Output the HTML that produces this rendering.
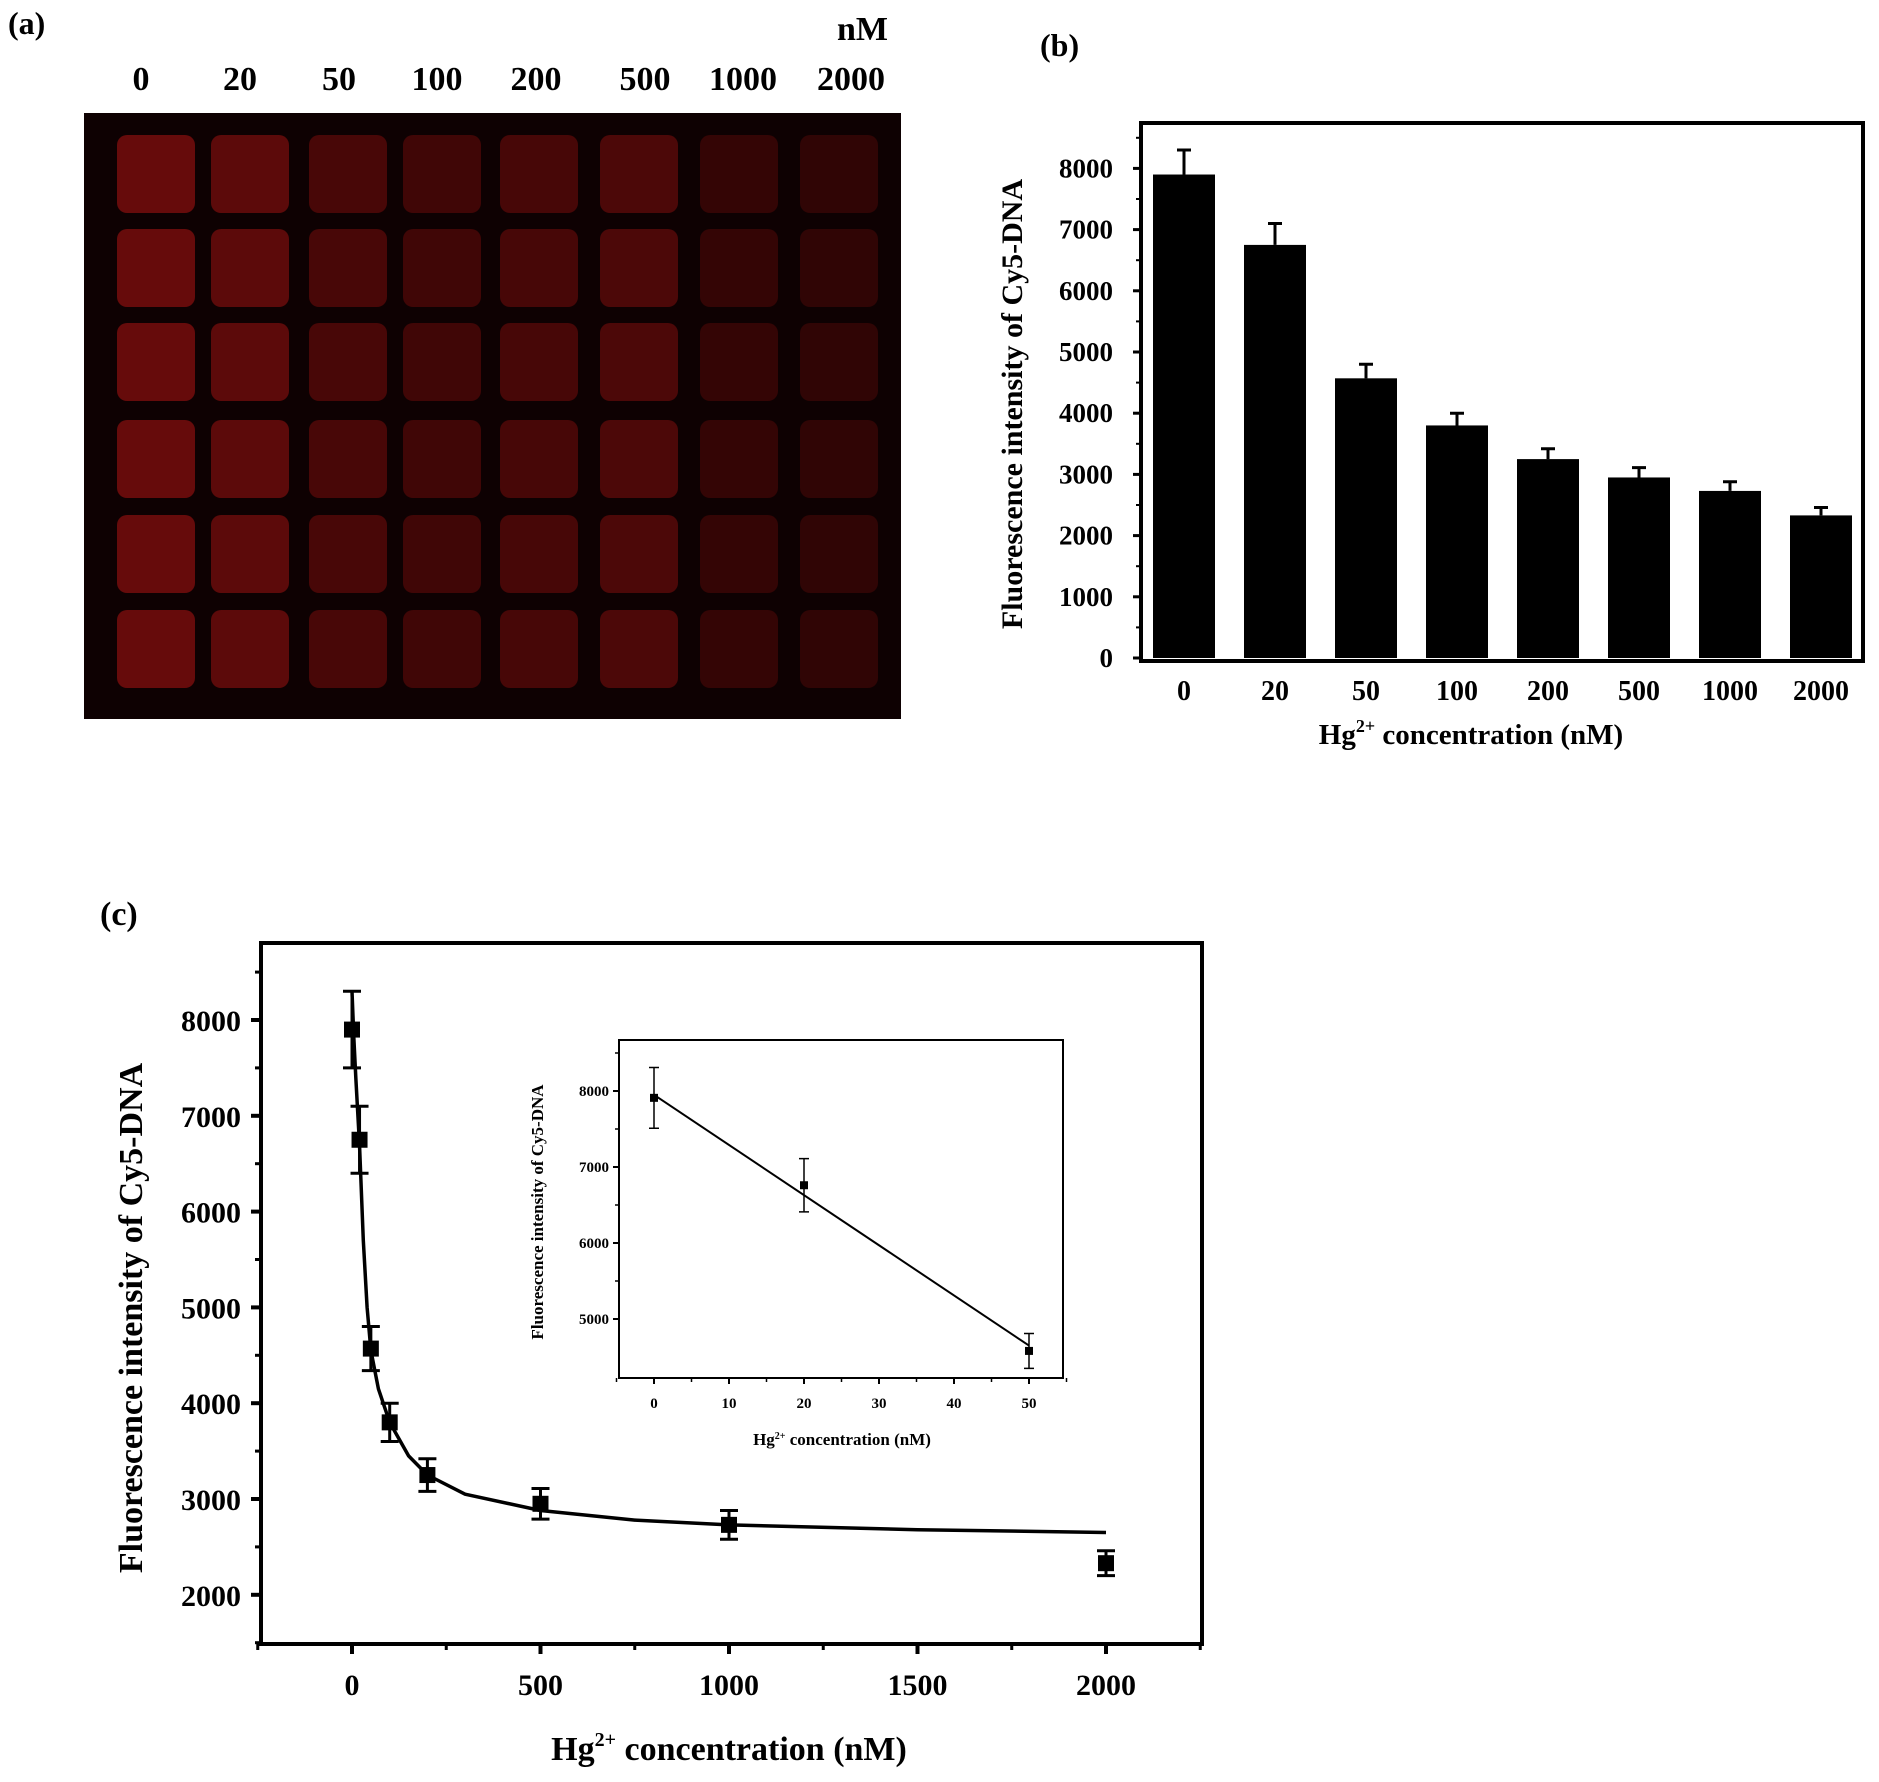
<!DOCTYPE html>
<html><head><meta charset="utf-8"><style>
html,body{margin:0;padding:0;background:#fff}
svg{display:block}
text{font-family:"Liberation Serif",serif;font-weight:bold;fill:#000}
</style></head><body>
<svg id="fig" width="1879" height="1782" viewBox="0 0 1879 1782" xmlns="http://www.w3.org/2000/svg">
<text x="8" y="34" font-size="32">(a)</text>
<text x="1040" y="56" font-size="32">(b)</text>
<text x="100" y="925" font-size="34">(c)</text>
<g id="gel"></g>
<g id="bar"></g>
<g id="curve"></g>
<g id="inset"></g>
</svg>
<script>
const concLabels = ["0","20","50","100","200","500","1000","2000"];
const concValues = [0,20,50,100,200,500,1000,2000];
const intensity = [7900,6750,4570,3800,3250,2950,2730,2330];
const errors = [400,350,230,200,170,160,150,130];
const barYTicks = [0,1000,2000,3000,4000,5000,6000,7000,8000];
const curveYTicks = [2000,3000,4000,5000,6000,7000,8000];
const curveXTicks = [0,500,1000,1500,2000];
const fitX = [0,5,10,20,30,40,50,70,100,150,200,300,500,750,1000,1500,2000];
const fitY = [8300,7800,7400,6700,5700,5000,4550,4150,3800,3450,3250,3050,2880,2780,2730,2680,2650];
const insetX = [0,20,50];
const insetY = [7910,6760,4580];
const insetErr = [400,350,230];
const insetFitX = [0,50];
const insetFitY = [7950,4650];
const insetXTicks = [0,10,20,30,40,50];
const insetYTicks = [5000,6000,7000,8000];
const wellColors = ["#660b0b","#5c0a0a","#480707","#400606","#470707","#4c0808","#340505","#300505"];

const NS="http://www.w3.org/2000/svg";
function mk(parent,tag,attrs,txt){const e=document.createElementNS(NS,tag);for(const k in attrs)e.setAttribute(k,attrs[k]);if(txt!==undefined)e.textContent=txt;parent.appendChild(e);return e;}

// ---- gel ----
const gel=document.getElementById('gel');
let r=mk(gel,'rect',{x:84,y:113,width:817,height:606,fill:'#0e0102'});


const colX=[156,250,348,442,539,639,739,839];
const labX=[141,240,339,437,536,645,743,851];
const rowY=[174,268,362,459,554,649];
concLabels.forEach((l,i)=>{
  const t=mk(gel,'text',{x:labX[i],y:90,'font-size':34,'text-anchor':'middle'},l);
  
  
  rowY.forEach(y=>{
    const w=mk(gel,'rect',{x:colX[i]-39,y:y-39,width:78,height:78,rx:10,fill:wellColors[i]});
    
    
  });
});
let t=mk(gel,'text',{x:888,y:40,'font-size':34,'text-anchor':'end'},'nM');



// ---- bar chart ----
const bar=document.getElementById('bar');
const bL=1141,bR=1863,bT=123,bB=661,bY0=658,bPer=61.2;
const bx=i=>1184+i*91.0;
const by=v=>bY0-v/1000*bPer;
intensity.forEach((v,i)=>{
  const rr=mk(bar,'rect',{x:bx(i)-31,y:by(v),width:62,height:bY0-by(v),fill:'#000'});
  
  
  const e=mk(bar,'path',{d:`M${bx(i)} ${by(v)} V${by(v+errors[i])} M${bx(i)-7} ${by(v+errors[i])} H${bx(i)+7}`,stroke:'#000','stroke-width':3,fill:'none'});
  
  
  const lb=mk(bar,'text',{x:bx(i),y:700,'font-size':28,'text-anchor':'middle'},concLabels[i]);
  
  
});
let ax=mk(bar,'path',{d:`M${bL} ${bT} H${bR} V${bB} H${bL} Z`,stroke:'#000','stroke-width':4,fill:'none'});


barYTicks.forEach(v=>{
  mk(bar,'line',{x1:bL-8,x2:bL,y1:by(v),y2:by(v),stroke:'#000','stroke-width':3});
  mk(bar,'line',{x1:bL-5,x2:bL,y1:by(v+500),y2:by(v+500),stroke:'#000','stroke-width':2});
  const lb=mk(bar,'text',{x:bL-28,y:by(v)+9,'font-size':27,'text-anchor':'end'},String(v));
  
  
});
t=mk(bar,'text',{x:0,y:0,'font-size':30,'text-anchor':'middle',transform:'translate(1022,404) rotate(-90)'},'Fluorescence intensity of Cy5-DNA');


t=mk(bar,'text',{x:1471,y:744,'font-size':29,'text-anchor':'middle'});


t.innerHTML='Hg<tspan dy="-12" font-size="18">2+</tspan><tspan dy="12"> concentration (nM)</tspan>';

// ---- curve chart ----
const cv=document.getElementById('curve');
const cL=261,cR=1202,cT=943,cB=1644;
const cx=v=>352+v*(754/2000);
const cy=v=>1020+(8000-v)/1000*95.8;
ax=mk(cv,'rect',{x:cL,y:cT,width:cR-cL,height:cB-cT,stroke:'#000','stroke-width':4,fill:'none'});


curveYTicks.forEach(v=>{
  mk(cv,'line',{x1:cL-10,x2:cL,y1:cy(v),y2:cy(v),stroke:'#000','stroke-width':4});
  mk(cv,'line',{x1:cL-6,x2:cL,y1:cy(v+500),y2:cy(v+500),stroke:'#000','stroke-width':3});
  const lb=mk(cv,'text',{x:cL-20,y:cy(v)+11,'font-size':30,'text-anchor':'end'},String(v));
  
  
});
mk(cv,'line',{x1:cL-6,x2:cL,y1:cy(1500),y2:cy(1500),stroke:'#000','stroke-width':3});
curveXTicks.forEach(v=>{
  mk(cv,'line',{x1:cx(v),x2:cx(v),y1:cB,y2:cB+10,stroke:'#000','stroke-width':4});
  mk(cv,'line',{x1:cx(v-250),x2:cx(v-250),y1:cB,y2:cB+6,stroke:'#000','stroke-width':3});
  const lb=mk(cv,'text',{x:cx(v),y:1695,'font-size':30,'text-anchor':'middle'},String(v));
  
  
});
mk(cv,'line',{x1:cx(2250),x2:cx(2250),y1:cB,y2:cB+6,stroke:'#000','stroke-width':3});
let d=fitX.map((x,i)=>(i?'L':'M')+cx(x).toFixed(1)+' '+cy(fitY[i]).toFixed(1)).join(' ');
let fl=mk(cv,'path',{d:d,stroke:'#000','stroke-width':3.5,fill:'none','stroke-linejoin':'round'});


concValues.forEach((x,i)=>{
  const px=cx(x),v=intensity[i],e=errors[i];
  const eb=mk(cv,'path',{d:`M${px} ${cy(v+e)} V${cy(v-e)} M${px-9} ${cy(v+e)} H${px+9} M${px-9} ${cy(v-e)} H${px+9}`,stroke:'#000','stroke-width':3,fill:'none'});
  
  
  const p=mk(cv,'rect',{x:px-8,y:cy(v)-8,width:16,height:16,fill:'#000'});
  
  
});
t=mk(cv,'text',{x:0,y:0,'font-size':34,'text-anchor':'middle',transform:'translate(142,1318) rotate(-90)'},'Fluorescence intensity of Cy5-DNA');


t=mk(cv,'text',{x:729,y:1760,'font-size':34,'text-anchor':'middle'});


t.innerHTML='Hg<tspan dy="-14" font-size="20">2+</tspan><tspan dy="14"> concentration (nM)</tspan>';

// ---- inset ----
const ins=document.getElementById('inset');
const iL=619,iR=1063,iT=1040,iB=1378;
const ix=v=>654+v*7.5;
const iy=v=>1091+(8000-v)/1000*76;
ax=mk(ins,'rect',{x:iL,y:iT,width:iR-iL,height:iB-iT,stroke:'#000','stroke-width':2,fill:'#fff'});


insetXTicks.forEach(v=>{
  mk(ins,'line',{x1:ix(v),x2:ix(v),y1:iB,y2:iB+6,stroke:'#000','stroke-width':2});
  mk(ins,'line',{x1:ix(v-5),x2:ix(v-5),y1:iB,y2:iB+4,stroke:'#000','stroke-width':1.5});
  const lb=mk(ins,'text',{x:ix(v),y:iB+30,'font-size':15,'text-anchor':'middle'},String(v));
  
  
});
mk(ins,'line',{x1:ix(55),x2:ix(55),y1:iB,y2:iB+4,stroke:'#000','stroke-width':1.5});
insetYTicks.forEach(v=>{
  mk(ins,'line',{x1:iL-6,x2:iL,y1:iy(v),y2:iy(v),stroke:'#000','stroke-width':2});
  mk(ins,'line',{x1:iL-4,x2:iL,y1:iy(v+500),y2:iy(v+500),stroke:'#000','stroke-width':1.5});
  const lb=mk(ins,'text',{x:iL-10,y:iy(v)+5,'font-size':15,'text-anchor':'end'},String(v));
  
  
});
fl=mk(ins,'line',{x1:ix(insetFitX[0]),y1:iy(insetFitY[0]),x2:ix(insetFitX[1]),y2:iy(insetFitY[1]),stroke:'#000','stroke-width':2});


insetX.forEach((x,i)=>{
  const px=ix(x),v=insetY[i],e=insetErr[i];
  const eb=mk(ins,'path',{d:`M${px} ${iy(v+e)} V${iy(v-e)} M${px-5} ${iy(v+e)} H${px+5} M${px-5} ${iy(v-e)} H${px+5}`,stroke:'#000','stroke-width':1.5,fill:'none'});
  
  
  const p=mk(ins,'rect',{x:px-4,y:iy(v)-4,width:8,height:8,fill:'#000'});
  
  
});
t=mk(ins,'text',{x:0,y:0,'font-size':17,'text-anchor':'middle',transform:'translate(543,1212) rotate(-90)'},'Fluorescence intensity of Cy5-DNA');


t=mk(ins,'text',{x:842,y:1445,'font-size':17,'text-anchor':'middle'});


t.innerHTML='Hg<tspan dy="-6" font-size="10">2+</tspan><tspan dy="6"> concentration (nM)</tspan>';
</script>
</body></html>
